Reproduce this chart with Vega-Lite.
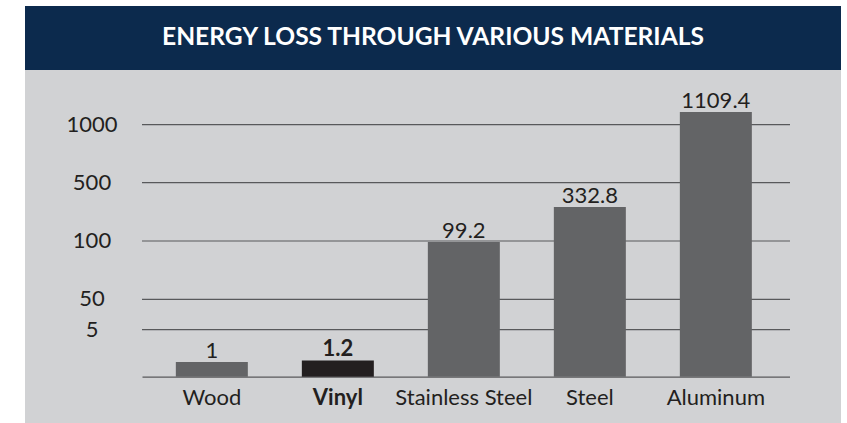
{
  "$schema": "https://vega.github.io/schema/vega-lite/v6.json",
  "background": "white",
  "padding": {"left": 25, "top": 6, "right": 0, "bottom": 0},
  "bounds": "flush",
  "config": {"view": {"stroke": null}, "font": "Lato"},
  "datasets": {
    "materials": [
      {"material": "Wood", "loss": 1},
      {"material": "Vinyl", "loss": 1.2},
      {"material": "Stainless Steel", "loss": 99.2},
      {"material": "Steel", "loss": 332.8},
      {"material": "Aluminum", "loss": 1109.4}
    ],
    "ticks": [{"v": 5}, {"v": 50}, {"v": 100}, {"v": 500}, {"v": 1000}],
    "banner": [{"t": "ENERGY LOSS THROUGH VARIOUS MATERIALS"}]
  },
  "spacing": 0,
  "vconcat": [
    {
      "width": 816,
      "height": 64,
      "view": {"fill": "#0c2a4d", "stroke": null},
      "data": {"name": "banner"},
      "mark": {"type": "text", "font": "Lato", "fontWeight": "bold", "fontSize": 24.6, "color": "#ffffff", "align": "center", "baseline": "middle"},
      "encoding": {"text": {"field": "t", "type": "nominal"}}
    },
    {
      "spacing": 0,
      "bounds": "flush",
      "hconcat": [
        {
          "width": 117,
          "height": 353,
          "view": {"fill": "#d1d2d4", "stroke": null},
          "data": {"name": "ticks"},
          "mark": {"type": "text", "fontSize": 22, "color": "#231f20", "align": "center", "baseline": "middle", "dx": 8.5},
          "encoding": {
            "y": {"field": "v", "type": "quantitative", "axis": null, "scale": {"domain": [0, 1, 5, 50, 100, 500, 1000], "range": [306.7, 292, 259.7, 229.3, 171, 112.7, 54.7], "nice": false, "zero": false}},
            "text": {"field": "v", "type": "nominal"}
          }
        },
        {
          "width": 648,
          "height": 353,
          "view": {"fill": "#d1d2d4", "stroke": null},
          "layer": [
            {
              "data": {"name": "ticks"},
              "mark": {"type": "rule", "color": "#58595b", "strokeWidth": 1.2},
              "encoding": {
                "y": {"field": "v", "type": "quantitative", "axis": null, "scale": {"domain": [0, 1, 5, 50, 100, 500, 1000], "range": [306.7, 292, 259.7, 229.3, 171, 112.7, 54.7], "nice": false, "zero": false}}
              }
            },
            {
              "data": {"name": "materials"},
              "mark": {"type": "bar"},
              "encoding": {
                "x": {"field": "material", "type": "nominal", "sort": null, "scale": {"paddingInner": 0.4286, "paddingOuter": 0.2857, "align": 0.47},
                  "axis": {"title": null, "orient": "bottom", "offset": -46.3, "domainColor": "#58595b", "domainWidth": 1.2, "domainCap": "butt", "ticks": false, "labelFontSize": 22, "labelColor": "#231f20", "labelAngle": 0, "labelPadding": 28, "labelBaseline": "alphabetic", "labelFontWeight": {"condition": {"test": "datum.value === 'Vinyl'", "value": "bold"}, "value": "normal"}}},
                "y": {"field": "loss", "type": "quantitative", "axis": null, "scale": {"domain": [0, 1, 5, 50, 100, 500, 1000], "range": [306.7, 292, 259.7, 229.3, 171, 112.7, 54.7], "nice": false, "zero": false}},
                "color": {"condition": {"test": "datum.material === 'Vinyl'", "value": "#231f20"}, "value": "#636466"}
              }
            },
            {
              "data": {"name": "materials"},
              "transform": [{"filter": "datum.material !== 'Vinyl'"}],
              "mark": {"type": "text", "fontSize": 22, "color": "#231f20", "baseline": "alphabetic", "dy": -4},
              "encoding": {
                "x": {"field": "material", "type": "nominal", "sort": null},
                "y": {"field": "loss", "type": "quantitative"},
                "text": {"field": "loss", "type": "nominal"}
              }
            },
            {
              "data": {"name": "materials"},
              "transform": [{"filter": "datum.material === 'Vinyl'"}],
              "mark": {"type": "text", "fontSize": 22, "fontWeight": "bold", "color": "#231f20", "baseline": "alphabetic", "dy": -4},
              "encoding": {
                "x": {"field": "material", "type": "nominal", "sort": null},
                "y": {"field": "loss", "type": "quantitative"},
                "text": {"field": "loss", "type": "nominal"}
              }
            }
          ]
        },
        {
          "width": 51,
          "height": 353,
          "view": {"fill": "#d1d2d4", "stroke": null},
          "data": {"values": [{"t": ""}]},
          "mark": {"type": "text"},
          "encoding": {"text": {"field": "t", "type": "nominal"}}
        }
      ]
    }
  ]
}
